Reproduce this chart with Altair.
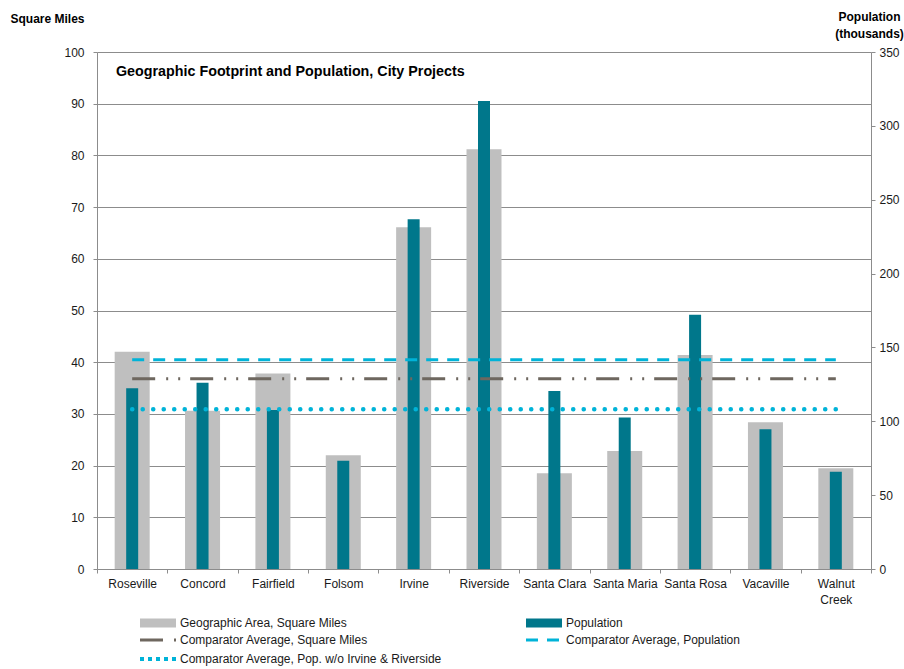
import altair as alt
import pandas as pd

# --- data -------------------------------------------------------------------
cities = ["Roseville", "Concord", "Fairfield", "Folsom", "Irvine", "Riverside",
          "Santa Clara", "Santa Maria", "Santa Rosa", "Vacaville", "Walnut Creek"]
area_sq_mi = [42.0, 30.6, 37.8, 22.0, 66.1, 81.2, 18.5, 22.8, 41.4, 28.4, 19.5]
population_k = [122.3, 126.1, 107.6, 73.3, 236.8, 316.8, 120.5, 102.5, 172.2, 94.6, 65.9]

avg_area = 36.8          # comparator average, square miles
avg_pop = 141.6          # comparator average, population (thousands)
avg_pop_excl = 108.1     # comparator average population without Irvine & Riverside

S_AREA = "Geographic Area, Square Miles"
S_POP = "Population"
S_AVG_AREA = "Comparator Average, Square Miles"
S_AVG_POP = "Comparator Average, Population"
S_AVG_POP_X = "Comparator Average, Pop. w/o Irvine & Riverside"
# legend fills column by column: left column first, then right column
series_order = [S_AREA, S_AVG_AREA, S_AVG_POP_X, S_POP, S_AVG_POP]
series_colors = ["#BFBFBF", "#6E675F", "#00B3D8", "#00778B", "#00B3D8"]

df = pd.DataFrame({"city": cities, "area": area_sq_mi, "pop": population_k})
df["avg_area"] = avg_area
df["avg_pop"] = avg_pop
df["avg_pop_excl"] = avg_pop_excl

# --- styling ----------------------------------------------------------------
FONT = "Liberation Sans, Arial, sans-serif"
GRID = "#8C8C8C"
TEXT = "#1A1A1A"
DASH_AREA = [23, 11, 2, 10, 2, 10]
DASH_POP = [12, 9]
DOT_POP = [0.1, 10.4]
W, H = 774, 517

# --- legend (one merged legend over the shared colour scale) ---------------
is_bar = f"(datum.value === '{S_AREA}' || datum.value === '{S_POP}')"
dash_expr = (f"datum.value === '{S_AVG_AREA}' ? {DASH_AREA} : "
             f"datum.value === '{S_AVG_POP}' ? {DASH_POP} : "
             f"datum.value === '{S_AVG_POP_X}' ? [4, 4] : [1, 0]")

legend = alt.Legend(
    title=None, orient="none", legendX=55, legendY=565, columns=2,
    columnPadding=78, rowPadding=5, symbolSize=144, padding=0,
    labelFont=FONT, labelFontSize=12, labelColor=TEXT, labelOffset=16,
    labelLimit=400,
    symbolType=alt.ExprRef(f"{is_bar} ? 'M-3,-0.75H3V0.75H-3Z' : 'M-3,0H3'"),
    symbolFillColor=alt.ExprRef(f"{is_bar} ? scale('color', datum.value) : 'transparent'"),
    symbolStrokeColor=alt.ExprRef(f"{is_bar} ? 'transparent' : scale('color', datum.value)"),
    symbolStrokeWidth=alt.ExprRef(f"{is_bar} ? 0 : datum.value === '{S_AVG_POP_X}' ? 4 : 3"),
    symbolDash=alt.ExprRef(dash_expr),
    symbolOpacity=1,
)
color_enc = alt.Color("series:N", scale=alt.Scale(domain=series_order, range=series_colors),
                      legend=legend)

# --- shared x ---------------------------------------------------------------
x_enc = alt.X(
    "city:N", sort=cities, title=None,
    scale=alt.Scale(paddingInner=0, paddingOuter=0),
    axis=alt.Axis(labelAngle=0, labelFont=FONT, labelFontSize=12, labelColor=TEXT,
                  labelPadding=5, labelLineHeight=16,
                  labelExpr="datum.label === 'Walnut Creek' ? ['Walnut', 'Creek'] : datum.label",
                  tickBand="extent", tickSize=4, tickColor=GRID, domainColor=GRID,
                  grid=False),
)

area_scale = alt.Scale(domain=[0, 100], nice=False, zero=True)
pop_scale = alt.Scale(domain=[0, 350], nice=False, zero=True)


def tag(chart, name):
    return chart.transform_calculate(series=f"'{name}'")


base = alt.Chart(df)

area_bars = tag(base.mark_bar(size=35), S_AREA).encode(
    x=x_enc,
    y=alt.Y("area:Q", scale=area_scale,
            axis=alt.Axis(values=list(range(0, 101, 10)), grid=True, gridColor=GRID,
                          domainColor=GRID, tickColor=GRID, tickSize=4,
                          labelFont=FONT, labelFontSize=12, labelColor=TEXT, labelPadding=9,
                          title="Square Miles", titleAngle=0, titleAlign="left",
                          titleBaseline="middle", titleX=-87, titleY=-34,
                          titleFont=FONT, titleFontSize=12, titleFontWeight="bold",
                          titleColor="#000000")),
    color=color_enc,
)

pop_bars = tag(base.mark_bar(size=12), S_POP).encode(
    x=x_enc,
    y=alt.Y("pop:Q", scale=pop_scale,
            axis=alt.Axis(orient="right", values=list(range(0, 351, 50)), grid=False,
                          domainColor=GRID, tickColor=GRID, tickSize=4,
                          labelFont=FONT, labelFontSize=12, labelColor=TEXT, labelPadding=4,
                          title=["Population", "(thousands)"], titleAngle=0,
                          titleAlign="center", titleBaseline="middle",
                          titleX=-2, titleY=-36, titleLineHeight=17,
                          titleFont=FONT, titleFontSize=12, titleFontWeight="bold",
                          titleColor="#000000")),
    color=color_enc,
)

avg_area_line = tag(base.mark_line(strokeWidth=3, strokeDash=DASH_AREA), S_AVG_AREA).encode(
    x=x_enc, y=alt.Y("avg_area:Q", scale=area_scale, axis=None), color=color_enc,
)
avg_pop_line = tag(base.mark_line(strokeWidth=3, strokeDash=DASH_POP), S_AVG_POP).encode(
    x=x_enc, y=alt.Y("avg_pop:Q", scale=pop_scale, axis=None), color=color_enc,
)
avg_pop_excl_line = tag(base.mark_line(strokeWidth=4.5, strokeDash=DOT_POP, strokeCap="round"),
                        S_AVG_POP_X).encode(
    x=x_enc, y=alt.Y("avg_pop_excl:Q", scale=pop_scale, axis=None), color=color_enc,
)

chart = alt.layer(
    area_bars, pop_bars, avg_area_line, avg_pop_line, avg_pop_excl_line
).resolve_scale(
    y="independent"
).properties(
    width=W, height=H,
    title=alt.TitleParams(
        "Geographic Footprint and Population, City Projects",
        anchor="start", frame="group", orient="top", baseline="middle",
        offset=0, dx=19, dy=76, font=FONT, fontSize=14.3, fontWeight="bold", color="#000000",
    ),
    autosize=alt.AutoSizeParams(type="none"),
    padding={"left": 97, "top": 52, "right": 33, "bottom": 100},
    background="white",
).configure_view(stroke=None)

chart.save("out.html", embed_options={"renderer": "svg", "actions": False})
